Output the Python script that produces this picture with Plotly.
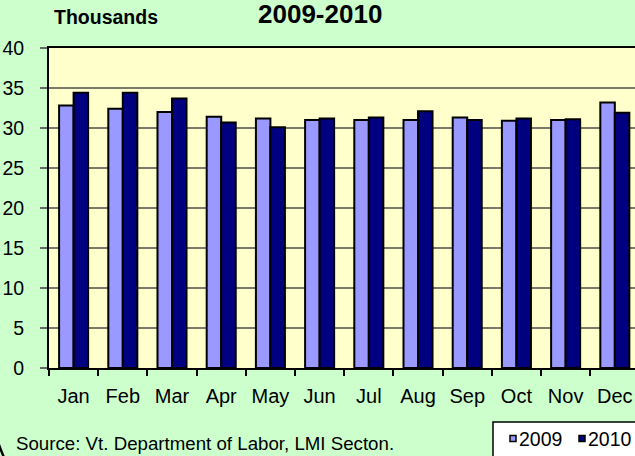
import plotly.graph_objects as go

months = ["Jan", "Feb", "Mar", "Apr", "May", "Jun", "Jul", "Aug", "Sep", "Oct", "Nov", "Dec"]
y2009 = [32.8, 32.4, 32.0, 31.4, 31.2, 31.0, 31.0, 31.0, 31.3, 30.9, 31.0, 33.2]
y2010 = [34.4, 34.4, 33.7, 30.7, 30.1, 31.2, 31.3, 32.1, 31.0, 31.2, 31.1, 31.9]
series_names = ["2009", "2010"]
colors = ["#9999FF", "#000080"]

W, H = 635, 456
L, T, B = 49, 48, 88
PW = W - L
PH = H - T - B
FONT = "Liberation Sans, Arial, sans-serif"


def px(x):
    return (x - L) / PW


def py(y):
    return (H - B - y) / PH


fig = go.Figure()
for name, vals, col in zip(series_names, [y2009, y2010], colors):
    fig.add_trace(go.Bar(
        x=months, y=vals, name=name,
        marker=dict(color=col, line=dict(color="black", width=2)),
        showlegend=False,
    ))

shapes = []
annotations = []

# legend box (manual)
shapes.append(dict(type="rect", xref="paper", yref="paper",
                   x0=px(493), x1=px(645), y0=py(422), y1=py(462),
                   fillcolor="white", line=dict(color="black", width=1.5), layer="above"))
for name, col, x0 in zip(series_names, colors, [510, 579]):
    shapes.append(dict(type="rect", xref="paper", yref="paper",
                       x0=px(x0), x1=px(x0 + 6), y0=py(435.5), y1=py(441.5),
                       fillcolor=col, line=dict(color="black", width=1.5), layer="above"))
    annotations.append(dict(text=name, xref="paper", yref="paper",
                            x=px(x0 + 7), y=py(438.5), xanchor="left", yanchor="middle",
                            showarrow=False, font=dict(size=19.5, color="black", family=FONT)))

# rounded corner fragment bottom-left
shapes.append(dict(type="path", xref="paper", yref="paper",
                   path="M %f,%f Q %f,%f %f,%f" % (px(-8), py(425), px(-1), py(446), px(5), py(460)),
                   line=dict(color="black", width=2.5), layer="above"))

annotations.append(dict(text="<b>Thousands</b>", xref="paper", yref="paper",
                        x=px(52), y=py(16.6), xanchor="left", yanchor="middle",
                        showarrow=False, font=dict(size=19.5, color="black", family=FONT)))
annotations.append(dict(text="<b>2009-2010</b>", xref="paper", yref="paper",
                        x=px(320), y=py(14), xanchor="center", yanchor="middle",
                        showarrow=False, font=dict(size=26, color="black", family=FONT)))
annotations.append(dict(text="Source: Vt. Department of Labor, LMI Secton.", xref="paper", yref="paper",
                        x=px(14), y=py(443), xanchor="left", yanchor="middle",
                        showarrow=False, font=dict(size=18.7, color="black", family=FONT)))

fig.update_layout(
    width=W, height=H,
    margin=dict(l=L, r=0, t=T, b=B, autoexpand=False),
    paper_bgcolor="#CCFFCC",
    plot_bgcolor="#FFFFCC",
    barmode="group",
    bargap=0.41,
    bargroupgap=0,
    font=dict(family=FONT, size=19.5, color="black"),
    shapes=shapes,
    annotations=annotations,
    xaxis=dict(
        type="category", range=[-0.5, 11.41],
        showline=True, linecolor="black", linewidth=2, mirror=True,
        ticks="outside", tickson="boundaries", ticklen=6, tickcolor="black", tickwidth=1.5,
        showgrid=False, tickfont=dict(size=20, color="black"),
        ticklabelstandoff=9,
    ),
    yaxis=dict(
        range=[0, 40], dtick=5, tick0=0,
        showline=True, linecolor="black", linewidth=2,
        ticks="outside", ticklen=7, tickcolor="#666666", tickwidth=1.5,
        showgrid=True, gridcolor="#7a7a6a", gridwidth=1.5,
        zeroline=False, tickfont=dict(size=19.5, color="black"),
        ticklabelstandoff=12,
    ),
)

fig.write_html(
    "out.html",
    config={"displayModeBar": False},
    post_script="document.body.style.margin='0';document.body.style.overflow='hidden';",
)
